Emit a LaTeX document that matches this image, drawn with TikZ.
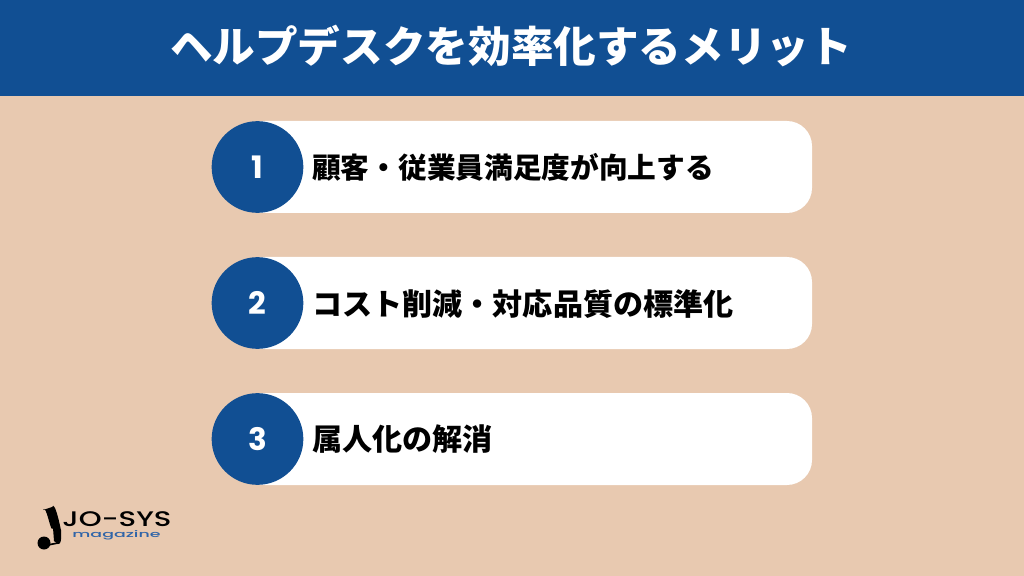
\documentclass[tikz,border=0pt]{standalone}
\usepackage{fontspec}
\setmainfont{Poppins}
\newfontfamily\cjk{Noto Sans CJK JP}
\newfontfamily\logofont{Poppins Medium}
\definecolor{headblue}{HTML}{114F93}
\definecolor{sand}{HTML}{E8C9B0}
\definecolor{magblue}{HTML}{2F64A8}
\tikzset{
  itembar/.style={fill=white,rounded corners=17.8pt},
  numdisc/.style={circle,fill=headblue,minimum size=65.2pt,inner sep=0pt,text=white,font=\fontsize{22}{26}\selectfont},
  itemtext/.style={anchor=west,inner sep=0pt,font=\cjk\fontsize{21.4}{25}\selectfont\bfseries}
}
\begin{document}
\begin{tikzpicture}[x=0.025cm,y=-0.025cm]
\useasboundingbox (0,0) rectangle (1024,576);
\fill [sand] (0,0) rectangle (1024,576);
\fill [headblue] (0,0) rectangle (1024,96);
\node (title) at (511,46) [text=white,font=\cjk\fontsize{30.3}{36}\selectfont\bfseries] {ヘルプデスクを効率化するメリット};

% the three rows
\fill [itembar] (240,121) rectangle (812,213);
\fill [itembar] (240,257) rectangle (812,349);
\fill [itembar] (240,393) rectangle (812,485);
\node (numa) at (257.5,167) [numdisc] {\textbf{1}};
\node (numb) at (257.5,303) [numdisc] {\textbf{2}};
\node (numc) at (257.5,439) [numdisc] {\textbf{3}};
\node (itema) at (312,167) [itemtext,font=\cjk\fontsize{20.4}{24}\selectfont\bfseries] {顧客・従業員満足度が向上する};
\node (itemb) at (312,304) [itemtext] {コスト削減・対応品質の標準化};
\node (itemc) at (312,439) [itemtext] {属人化の解消};

% logo
\fill [black] (43,510) to [out=65,in=-105] (53,528) to (54,541) -- (58,544) to [out=-10,in=100] (61,530) to [out=-80,in=70] (52,507) -- cycle;
\draw [line width=1.2pt] (44,545) to [out=0,in=190] (58,543);
\fill [black] (44,543) circle [radius=6.5];
\node (logoa) at (117,521.5) [xscale=1.38,inner sep=0pt,font=\logofont\fontsize{15}{16}\selectfont,text height=7.5pt,text depth=0pt] {JO-SYS};
\node (logob) at (116.5,535.5) [xscale=1.9,inner sep=0pt,text=magblue,font=\logofont\fontsize{6.5}{7}\selectfont,text height=3.5pt,text depth=0pt] {magazine};
\end{tikzpicture}
\end{document}
